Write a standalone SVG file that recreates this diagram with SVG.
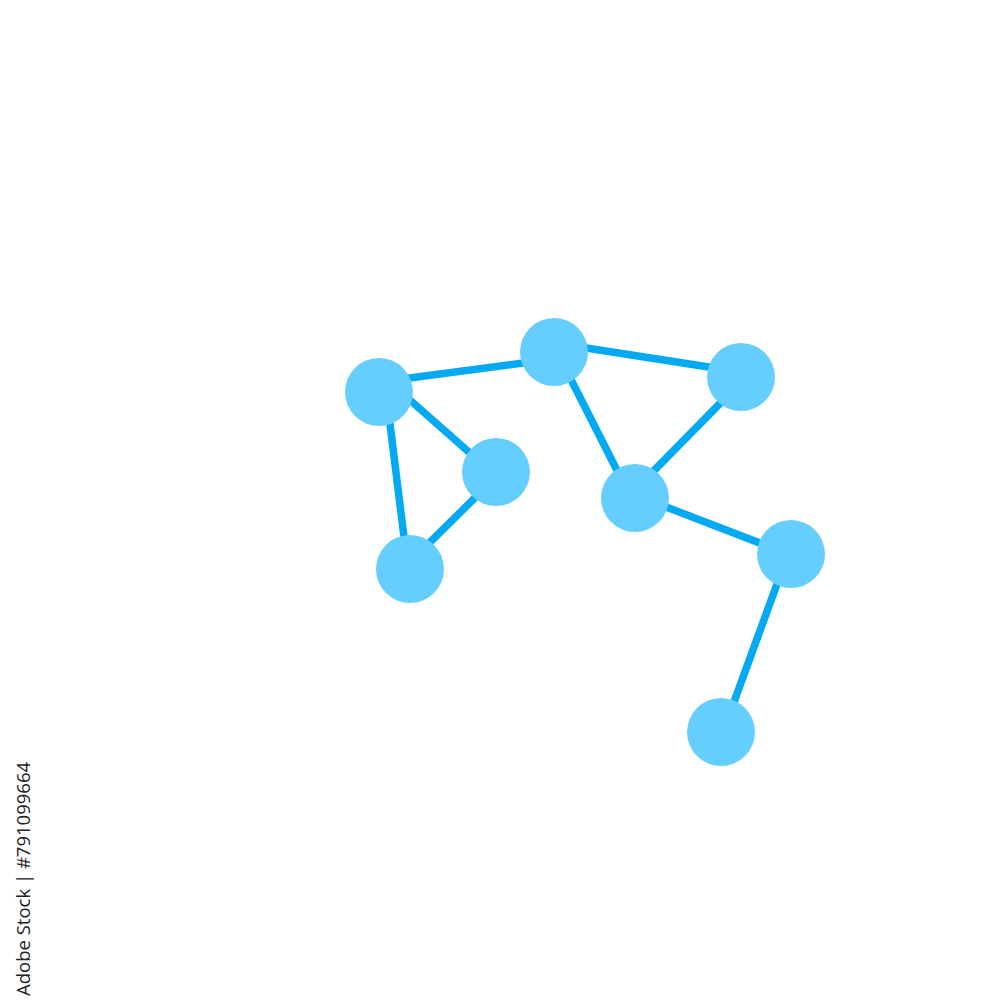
<svg xmlns="http://www.w3.org/2000/svg" width="1000" height="1000" viewBox="0 0 1000 1000">
<style>
.edge{stroke:#03A9F1;stroke-width:7.5;stroke-linecap:butt;fill:none}
.node{fill:#66CEFF}
.wm{font-family:"Open Sans","DejaVu Sans",sans-serif;font-size:18.5px;fill:#222}
</style>
<rect width="1000" height="1000" fill="#fff"/>
<g id="connectors">
<line class="edge" x1="379" y1="382" x2="554" y2="359"/>
<line class="edge" x1="554" y1="343" x2="741" y2="372"/>
<line class="edge" x1="385" y1="378" x2="496" y2="476"/>
<line class="edge" x1="386" y1="392" x2="408" y2="569"/>
<line class="edge" x1="496" y1="477" x2="410" y2="562"/>
<line class="edge" x1="557" y1="352" x2="631" y2="498"/>
<line class="edge" x1="746" y1="377" x2="627" y2="498"/>
<line class="edge" x1="635" y1="495" x2="791" y2="555"/>
<line class="edge" x1="788" y1="554" x2="723" y2="732"/>
</g>
<g id="nodeA"><circle class="node" cx="379" cy="392" r="34"/></g>
<g id="nodeB"><circle class="node" cx="554" cy="352" r="34"/></g>
<g id="nodeC"><circle class="node" cx="741" cy="377" r="34"/></g>
<g id="nodeD"><circle class="node" cx="496" cy="472" r="34"/></g>
<g id="nodeE"><circle class="node" cx="410" cy="569" r="34"/></g>
<g id="nodeF"><circle class="node" cx="635" cy="498" r="34"/></g>
<g id="nodeG"><circle class="node" cx="791" cy="554" r="34"/></g>
<g id="nodeH"><circle class="node" cx="721" cy="732" r="34"/></g>
<text class="wm" transform="translate(30,996) rotate(-90)">Adobe Stock | #791099664</text>
</svg>
